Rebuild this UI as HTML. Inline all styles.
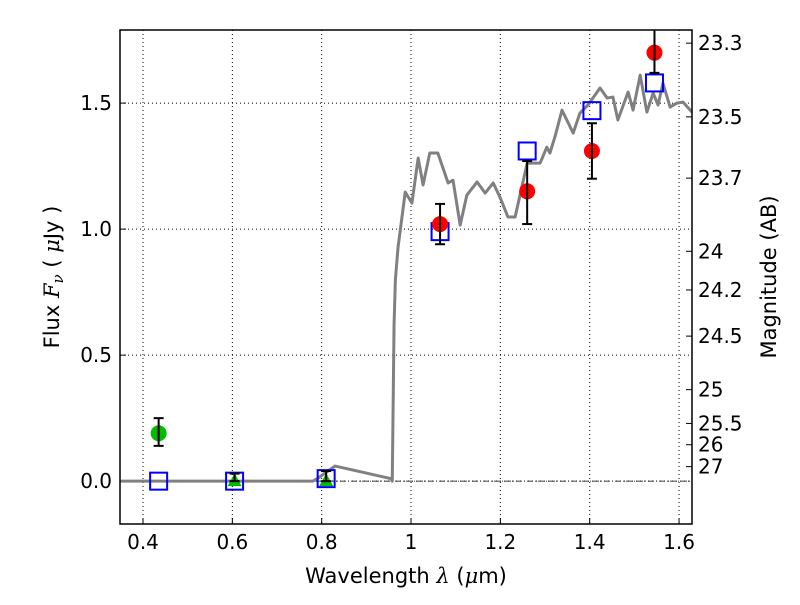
<!DOCTYPE html>
<html><head><meta charset="utf-8"><style>
body{margin:0;background:#fff}
svg{font-family:"DejaVu Sans","Liberation Sans",sans-serif}
</style></head><body>
<svg id="c" width="800" height="600"></svg>
<script>
const specLam=[0.35,0.78,0.79,0.83,0.88,0.955,0.958,0.962,0.965,0.971,0.987,1.002,1.016,1.027,1.042,1.060,1.083,1.094,1.110,1.125,1.148,1.166,1.184,1.199,1.217,1.233,1.260,1.289,1.304,1.311,1.322,1.338,1.363,1.378,1.396,1.423,1.439,1.452,1.463,1.486,1.497,1.513,1.528,1.542,1.553,1.564,1.580,1.595,1.609,1.629];
const specFlux=[0,0,0.01,0.06,0.04,0.01,0,0.62,0.80,0.929,1.147,1.103,1.282,1.175,1.302,1.302,1.183,1.194,1.016,1.135,1.187,1.143,1.183,1.127,1.048,1.048,1.262,1.262,1.325,1.302,1.365,1.472,1.381,1.460,1.492,1.560,1.520,1.524,1.433,1.544,1.472,1.611,1.464,1.540,1.492,1.579,1.484,1.500,1.504,1.464];
const redLam=[1.065,1.26,1.405,1.545];
const redFlux=[1.02,1.15,1.31,1.70];
const redLo=[0.94,1.02,1.20,1.62];
const redHi=[1.10,1.27,1.42,1.85];
const greenCircLam=[0.435];
const greenCircFlux=[0.19];
const greenCircLo=[0.14];
const greenCircHi=[0.25];
const triLam=[0.605,0.81];
const triFlux=[0.0,0.0];
const triHi=[0.03,0.04];
const sqLam=[0.435,0.605,0.81,1.065,1.26,1.405,1.545];
const sqFlux=[0,0,0.01,0.99,1.31,1.47,1.58];
const xTicks=[0.4,0.6,0.8,1.0,1.2,1.4,1.6];
const xTickLabels=["0.4","0.6","0.8","1","1.2","1.4","1.6"];
const yTicks=[0,0.5,1.0,1.5];
const yTickLabels=["0.0","0.5","1.0","1.5"];
const magTicks=[23.3,23.5,23.7,24,24.2,24.5,25,25.5,26,27];

const L=120,R=692,T=30,B=524,xmin=0.3485,xmax=1.629,ymin=-0.17,ymax=1.79;
const X=v=>L+(v-xmin)/(xmax-xmin)*(R-L);
const Y=v=>B-(v-ymin)/(ymax-ymin)*(B-T);
const svg=document.getElementById('c');
const NS='http://www.w3.org/2000/svg';
function mk(tag,attrs,parent){const e=document.createElementNS(NS,tag);for(const k in attrs)e.setAttribute(k,attrs[k]);(parent||svg).appendChild(e);return e;}
const clip=mk('clipPath',{id:'pc'});
mk('rect',{x:L,y:T,width:R-L,height:B-T},clip);
xTicks.forEach((t,i)=>{
 const g=mk('line',{x1:X(t),x2:X(t),y1:T,y2:B,stroke:'#000','stroke-width':1,'stroke-dasharray':'1,3'});
 
 
 const tk=mk('line',{x1:X(t),x2:X(t),y1:B,y2:B-6,stroke:'#000'});
 
 
 const tx=mk('text',{x:X(t),y:B+25,'text-anchor':'middle','font-size':20});
 tx.textContent=xTickLabels[i];
 
 
});
yTicks.forEach((t,i)=>{
 const g=mk('line',{x1:L,x2:R,y1:Y(t),y2:Y(t),stroke:'#000','stroke-width':1,'stroke-dasharray':'1,3'});
 
 
 const tk=mk('line',{x1:L,x2:L+6,y1:Y(t),y2:Y(t),stroke:'#000'});
 
 
 const tx=mk('text',{x:L-8,y:Y(t)+7,'text-anchor':'end','font-size':20});
 tx.textContent=yTickLabels[i];
 
 
});
magTicks.forEach(m=>{
 const f=Math.pow(10,(23.9-m)/2.5);
 const tk=mk('line',{x1:R,x2:R-6,y1:Y(f),y2:Y(f),stroke:'#000'});
 
 
 const tx=mk('text',{x:R+6,y:Y(f)+7,'font-size':20});
 tx.textContent=String(m);
 
 
});
const z=mk('line',{x1:L,x2:R,y1:Y(0),y2:Y(0),stroke:'#000','stroke-width':0.8,'stroke-dasharray':'6,2,1,2'});


const sp=mk('polyline',{points:specLam.map((l,i)=>X(l)+','+Y(specFlux[i])).join(' '),fill:'none',stroke:'#808080','stroke-width':3,'stroke-linejoin':'round','clip-path':'url(#pc)'});


function err(x,lo,hi){
 const g=mk('g',{stroke:'#000','stroke-width':2,'clip-path':'url(#pc)'});
 
 
 mk('line',{x1:X(x),x2:X(x),y1:Y(lo),y2:Y(hi)},g);
 mk('line',{x1:X(x)-5,x2:X(x)+5,y1:Y(lo),y2:Y(lo)},g);
 mk('line',{x1:X(x)-5,x2:X(x)+5,y1:Y(hi),y2:Y(hi)},g);
}
sqLam.forEach((l,i)=>{
 const s=mk('rect',{x:X(l)-8.5,y:Y(sqFlux[i])-8.5,width:17,height:17,fill:'none',stroke:'#0000ff','stroke-width':2});
 
 
});
greenCircLam.forEach((l,i)=>{
 const c=mk('circle',{cx:X(l),cy:Y(greenCircFlux[i]),r:8,fill:'#00bb00'});
 
 
 err(l,greenCircLo[i],greenCircHi[i]);
});
triLam.forEach((l,i)=>{
 const x=X(l),y=Y(triFlux[i]);
 const p=mk('polygon',{points:`${x},${y-8} ${x-7},${y+5} ${x+7},${y+5}`,fill:'#00bb00'});
 
 
 err(l,triFlux[i],triHi[i]);
});
redLam.forEach((l,i)=>{
 const c=mk('circle',{cx:X(l),cy:Y(redFlux[i]),r:8,fill:'#ff0000'});
 
 
 err(l,redLo[i],redHi[i]);
});
const fr=mk('rect',{x:L,y:T,width:R-L,height:B-T,fill:'none',stroke:'#000','stroke-width':1.5});


</script>
<svg width="800" height="600" style="position:absolute;left:0;top:0">
<text x="406" y="583" text-anchor="middle" font-size="21">Wavelength  <tspan font-style="italic" font-family="DejaVu Serif, serif">λ</tspan> (<tspan font-style="italic" font-family="DejaVu Serif, serif">μ</tspan>m)</text>
<text transform="translate(59,277) rotate(-90)" text-anchor="middle" font-size="21">Flux  <tspan font-style="italic" font-family="DejaVu Serif, serif">F<tspan font-size="15" dy="4">ν</tspan></tspan><tspan dy="-4">  (  </tspan><tspan font-style="italic" font-family="DejaVu Serif, serif">μ</tspan>Jy )</text>
<text transform="translate(776,277) rotate(-90)" text-anchor="middle" font-size="21">Magnitude (AB)</text>
</svg>
</body></html>
